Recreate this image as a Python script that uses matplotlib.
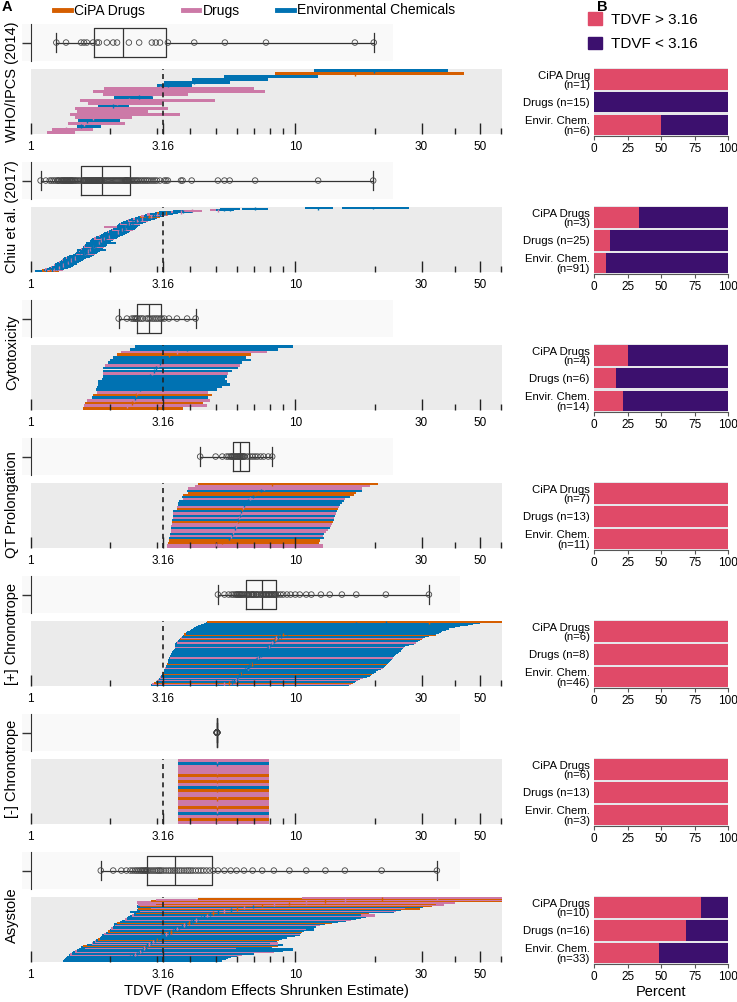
import numpy as np
import matplotlib.pyplot as plt
from matplotlib.lines import Line2D
from matplotlib.patches import Patch, Rectangle
from matplotlib.ticker import NullFormatter

plt.rcParams['font.family'] = ['Liberation Sans', 'DejaVu Sans']

# ---------------- data (rows listed bottom -> top) ----------------
# category codes: C = CiPA drug, D = drug, E = environmental chemical

who_cat = "DDEDEDDDDE" "DDEDDDEEEE" "CE"
who_low = [1.15, 1.20, 1.49, 1.38, 1.51, 1.47, 1.41, 1.50, 1.47, 1.80, 1.65,
           1.54, 2.06, 1.88, 1.72, 1.90, 3.00, 3.20, 4.06, 5.40, 8.40, 11.8]
who_mid = [1.25, 1.36, 1.55, 1.59, 1.63, 1.72, 1.78, 1.81, 1.94, 2.05, 2.12,
           2.35, 2.57, 2.87, 2.97, 3.08, 3.30, 4.15, 5.42, 7.75, 16.8, 19.8]
who_high = [1.47, 1.72, 1.85, 2.27, 2.17, 2.41, 3.67, 2.77, 3.30, 2.35, 3.13,
            4.97, 2.90, 3.93, 7.70, 7.00, 4.06, 5.66, 7.90, 12.2, 43.5, 37.8]

chiu_cat = ("EECEDEEEDE" "EEDEEEEDEE" "EDEEEDEEEE" "EEEDEEEEDE" "EDEEEEDEEE"
            "EEEEDEEEDE" "EDEEEDEEEE" "EEEDEEEDEE" "EEDEEEEEDE" "EEEEDEEDEE"
            "ECDEEDE" "ECEDEDDEEEEE")
chiu_low = [1.04, 1.07, 1.10, 1.12, 1.13, 1.15, 1.17, 1.18, 1.19, 1.20,
            1.22, 1.22, 1.23, 1.24, 1.25, 1.26, 1.27, 1.28, 1.29, 1.30,
            1.30, 1.31, 1.32, 1.33, 1.34, 1.36, 1.37, 1.38, 1.40, 1.42,
            1.45, 1.46, 1.47, 1.48, 1.48, 1.49, 1.50, 1.51, 1.52, 1.53,
            1.50, 1.55, 1.56, 1.57, 1.57, 1.58, 1.59, 1.60, 1.61, 1.62,
            1.63, 1.64, 1.62, 1.66, 1.67, 1.67, 1.68, 1.69, 1.70, 1.71,
            1.72, 1.74, 1.76, 1.77, 1.79, 1.81, 1.83, 1.85, 1.87, 1.88,
            1.90, 1.92, 1.94, 1.96, 1.98, 2.00, 2.01, 2.03, 2.05, 2.07,
            2.09, 2.10, 1.90, 2.12, 2.13, 2.13, 2.14, 2.16, 2.17, 2.19,
            2.22, 2.24, 2.27, 2.30, 2.33, 2.36, 2.39, 2.43, 2.47, 2.50,
            2.54, 2.58, 2.62, 2.67, 2.71, 2.76, 2.83, 2.95, 3.00, 3.05,
            3.40, 3.45, 3.75, 4.75, 5.00, 5.20, 6.30, 10.9, 15.0]
chiu_mid = [1.09, 1.14, 1.18, 1.20, 1.22, 1.24, 1.26, 1.27, 1.28, 1.30,
            1.31, 1.32, 1.33, 1.34, 1.35, 1.36, 1.37, 1.38, 1.39, 1.40,
            1.41, 1.42, 1.43, 1.44, 1.45, 1.47, 1.48, 1.50, 1.52, 1.54,
            1.57, 1.58, 1.59, 1.60, 1.61, 1.62, 1.63, 1.64, 1.65, 1.66,
            1.67, 1.68, 1.69, 1.70, 1.71, 1.72, 1.73, 1.74, 1.75, 1.76,
            1.77, 1.78, 1.79, 1.80, 1.81, 1.82, 1.83, 1.84, 1.85, 1.86,
            1.87, 1.89, 1.91, 1.93, 1.95, 1.97, 1.99, 2.01, 2.03, 2.05,
            2.07, 2.09, 2.11, 2.13, 2.15, 2.17, 2.19, 2.21, 2.23, 2.25,
            2.27, 2.28, 2.29, 2.30, 2.31, 2.32, 2.33, 2.35, 2.36, 2.38,
            2.41, 2.44, 2.47, 2.50, 2.53, 2.56, 2.60, 2.64, 2.68, 2.72,
            2.76, 2.80, 2.85, 2.90, 2.95, 3.00, 3.08, 3.20, 3.25, 3.30,
            3.70, 3.75, 4.06, 5.10, 5.40, 5.65, 7.05, 12.2, 19.7]
chiu_high = [1.14, 1.24, 1.28, 1.30, 1.33, 1.34, 1.37, 1.38, 1.39, 1.42,
             1.42, 1.44, 1.45, 1.46, 1.47, 1.49, 1.49, 1.51, 1.52, 1.53,
             1.55, 1.56, 1.57, 1.58, 1.59, 1.61, 1.62, 1.65, 1.67, 1.70,
             1.72, 1.73, 1.74, 1.75, 1.76, 1.78, 1.79, 1.80, 1.81, 1.82,
             1.92, 1.84, 1.85, 1.86, 1.88, 1.89, 1.90, 1.91, 1.92, 1.93,
             1.94, 1.95, 2.10, 1.97, 1.99, 2.00, 2.01, 2.02, 2.03, 2.04,
             2.05, 2.07, 2.10, 2.12, 2.14, 2.16, 2.18, 2.20, 2.23, 2.25,
             2.27, 2.30, 2.32, 2.34, 2.36, 2.38, 2.40, 2.43, 2.45, 2.47,
             2.49, 2.50, 2.48, 2.53, 2.54, 2.55, 2.56, 2.58, 2.59, 2.61,
             2.65, 2.68, 2.72, 2.75, 2.78, 2.82, 2.86, 2.90, 2.95, 2.99,
             3.04, 3.08, 3.14, 3.19, 3.25, 3.30, 3.39, 3.45, 3.50, 3.60,
             4.05, 4.10, 4.45, 5.45, 5.85, 6.20, 7.90, 13.9, 27.0]

cyto_cat = "CDCDECDEEE" "EEEDEEDEEE" "CDEE"
cyto_low = [1.57, 1.59, 1.60, 1.63, 1.71, 1.72, 1.78, 1.76, 1.78, 1.79, 1.80, 1.86,
            1.88, 1.88, 1.88, 1.88, 1.91, 1.96, 2.00, 2.05, 2.12, 2.20, 2.37, 2.48]
cyto_mid = [2.15, 2.31, 2.41, 2.45, 2.48, 2.51, 2.53, 2.58, 2.62, 2.66, 2.74, 2.78,
            2.82, 2.88, 2.93, 2.98, 3.03, 3.09, 3.13, 3.20, 3.33, 3.57, 3.90, 4.20]
cyto_high = [3.76, 4.63, 4.48, 4.75, 4.68, 4.83, 4.68, 5.05, 5.30, 5.65, 5.50, 5.43,
             5.50, 5.56, 5.76, 6.06, 6.20, 6.30, 6.80, 6.50, 6.80, 7.80, 8.60, 9.80]

qt_cat = "DDCCEDEDDE" "DDCEDEDECD" "EEEDECCEDD" "C"
qt_low = [3.27, 3.27, 3.31, 3.33, 3.33, 3.35, 3.35, 3.38, 3.38, 3.39,
          3.40, 3.43, 3.43, 3.43, 3.44, 3.46, 3.46, 3.46, 3.57, 3.57,
          3.60, 3.60, 3.63, 3.77, 3.73, 3.77, 3.93, 3.90, 3.93, 4.17, 4.30]
qt_mid = [4.37, 5.00, 5.30, 5.50, 5.60, 5.70, 5.75, 5.80, 5.85, 5.90,
          5.95, 6.00, 6.05, 6.10, 6.15, 6.18, 6.22, 6.26, 6.30, 6.35,
          6.40, 6.45, 6.60, 6.75, 6.90, 7.05, 7.20, 7.40, 7.60, 7.90, 8.18]
qt_high = [12.7, 12.7, 12.3, 12.4, 12.8, 12.7, 12.8, 13.1, 13.3, 13.5,
           13.6, 13.8, 13.9, 13.95, 14.0, 14.1, 14.2, 14.4, 14.5, 14.6,
           14.8, 15.0, 15.3, 15.4, 16.1, 16.7, 16.9, 17.9, 17.9, 19.1, 20.6]

pos_cat = ("EDCEEDEDEE" "ECEEEEDEEE" "CEEEEEDEEE" "EEEEEEDEEE" "DEECDEECEE"
           "EEEEEEEEEC")
pos_low = [2.85, 2.88, 2.92, 2.98, 3.02, 3.04, 3.06, 3.08, 3.11, 3.13,
           3.15, 3.16, 3.18, 3.19, 3.20, 3.21, 3.22, 3.25, 3.26, 3.27,
           3.28, 3.29, 3.30, 3.31, 3.32, 3.33, 3.35, 3.36, 3.38, 3.40,
           3.42, 3.43, 3.45, 3.48, 3.50, 3.55, 3.50, 3.50, 3.52, 3.55,
           3.58, 3.60, 3.65, 3.68, 3.70, 3.72, 3.75, 3.80, 3.85, 3.90,
           4.00, 4.05, 4.10, 4.15, 4.20, 4.30, 4.40, 4.50, 4.60, 4.65]
pos_mid = [5.10, 5.40, 5.60, 5.75, 5.85, 5.95, 6.00, 6.05, 6.10, 6.15,
           6.20, 6.25, 6.30, 6.38, 6.45, 6.55, 6.60, 6.65, 6.70, 6.80,
           6.85, 6.90, 6.95, 7.00, 7.10, 7.15, 7.20, 7.30, 7.40, 7.45,
           7.55, 7.60, 7.70, 7.75, 7.80, 7.90, 7.95, 8.00, 8.10, 8.15,
           8.20, 8.30, 8.35, 8.40, 8.45, 8.60, 8.80, 9.00, 9.30, 9.60,
           10.0, 10.4, 11.0, 11.5, 12.5, 13.5, 15.0, 17.0, 22.0, 32.0]
pos_high = [16.0, 16.2, 16.5, 16.8, 17.0, 17.3, 17.6, 18.0, 18.6, 19.1,
            19.3, 19.5, 19.8, 20.2, 20.6, 21.0, 21.4, 21.6, 21.8, 22.0,
            22.2, 22.4, 22.6, 22.8, 23.0, 23.2, 23.4, 23.6, 23.8, 24.0,
            24.4, 24.7, 25.0, 25.2, 25.3, 25.5, 25.8, 26.0, 27.0, 28.0,
            28.5, 29.0, 29.5, 30.0, 30.4, 31.0, 32.0, 34.0, 34.0, 35.0,
            35.5, 36.0, 37.0, 38.0, 40.0, 42.0, 45.0, 47.0, 50.0, 62.0]

neg_cat = "DCDEDCDDCDDCEDCDCDDDED"
neg_low = [3.59, 3.59, 3.59, 3.59, 3.59, 3.59, 3.59, 3.59, 3.59, 3.59, 3.59,
           3.59, 3.59, 3.59, 3.59, 3.59, 3.59, 3.59, 3.59, 3.59, 3.59, 3.59]
neg_mid = [5.06, 5.06, 5.06, 5.06, 5.06, 5.06, 5.06, 5.06, 5.06, 5.06, 5.06,
           5.06, 5.06, 5.06, 5.06, 5.06, 5.06, 5.06, 5.06, 5.06, 5.06, 5.06]
neg_high = [7.96, 7.96, 7.96, 7.96, 7.96, 7.96, 7.96, 7.96, 7.96, 7.96, 7.96,
            7.96, 7.96, 7.96, 7.96, 7.96, 7.96, 7.96, 7.96, 7.96, 7.96, 7.96]

asys_cat = ("EEEEEEDEEDEEDECEDEDECEEE" "EDECEEDEED" "ECEEDEEEDE" "CEDECDECDC"
            "DCDCD")
asys_low = [1.33, 1.34, 1.35, 1.36, 1.37, 1.39, 1.41, 1.43, 1.45, 1.47,
            1.50, 1.52, 1.60, 1.55, 1.58, 1.63, 1.70, 1.72, 1.75, 1.77,
            1.80, 1.82, 1.85, 1.88, 1.86, 1.90, 1.93, 1.96, 2.00, 2.05,
            2.02, 2.04, 2.06, 2.08, 2.07, 2.12, 2.17, 2.22, 2.27, 2.32,
            2.34, 2.38, 2.42, 2.46, 2.50, 2.37, 2.60, 2.52, 2.55, 2.85,
            2.52, 2.60, 2.55, 2.97, 2.52, 2.85, 2.98, 4.30, 10.6]
asys_mid = [1.84, 2.05, 2.20, 2.30, 2.38, 2.43, 2.48, 2.52, 2.56, 2.60,
            2.63, 2.66, 2.69, 2.72, 2.74, 2.76, 2.80, 2.85, 2.90, 2.95,
            3.00, 3.04, 3.08, 3.12, 3.18, 3.25, 3.32, 3.38, 3.45, 3.51,
            3.58, 3.65, 3.72, 3.80, 3.88, 3.95, 4.02, 4.10, 4.20, 4.30,
            4.40, 4.50, 4.62, 4.75, 4.90, 5.10, 5.40, 5.70, 6.00, 6.40,
            6.90, 7.50, 8.30, 9.50, 11.0, 13.0, 15.4, 21.2, 34.3]
asys_high = [5.30, 5.30, 5.45, 5.55, 5.70, 6.00, 6.30, 7.00, 6.60, 8.30,
             9.00, 9.80, 5.96, 8.20, 8.60, 8.97, 8.60, 8.00, 8.30, 8.50,
             8.70, 8.90, 9.30, 10.0, 10.4, 10.4, 10.5, 10.6, 10.8, 11.8,
             11.0, 11.5, 12.0, 12.4, 13.0, 13.8, 14.5, 15.5, 16.3, 17.0,
             17.7, 18.5, 20.0, 17.7, 19.0, 23.6, 24.0, 25.0, 29.6, 26.0,
             30.5, 33.0, 36.5, 34.0, 40.0, 61.0, 61.0, 61.0, 61.0]

endpoints = ['WHO/IPCS (2014)', 'Chiu et al. (2017)', 'Cytotoxicity',
             'QT Prolongation', '[+] Chronotrope', '[-] Chronotrope', 'Asystole']

# panel B: percent of chemicals with TDVF > 3.16 (CiPA, Drugs, Envir.)
pct_above = [[100, 0, 50], [33.3, 12, 8.8], [25, 16.7, 21.4], [100, 100, 100],
             [100, 100, 100], [100, 100, 100], [80, 68.75, 48.5]]
b_labels = [
    ['CiPA Drug\n(n=1)', 'Drugs (n=15)', 'Envir. Chem.\n(n=6)'],
    ['CiPA Drugs\n(n=3)', 'Drugs (n=25)', 'Envir. Chem.\n(n=91)'],
    ['CiPA Drugs\n(n=4)', 'Drugs (n=6)', 'Envir. Chem.\n(n=14)'],
    ['CiPA Drugs\n(n=7)', 'Drugs (n=13)', 'Envir. Chem.\n(n=11)'],
    ['CiPA Drugs\n(n=6)', 'Drugs (n=8)', 'Envir. Chem.\n(n=46)'],
    ['CiPA Drugs\n(n=6)', 'Drugs (n=13)', 'Envir. Chem.\n(n=3)'],
    ['CiPA Drugs\n(n=10)', 'Drugs (n=16)', 'Envir. Chem.\n(n=33)'],
]

series = [
    (who_cat, who_low, who_mid, who_high),
    (chiu_cat, chiu_low, chiu_mid, chiu_high),
    (cyto_cat, cyto_low, cyto_mid, cyto_high),
    (qt_cat, qt_low, qt_mid, qt_high),
    (pos_cat, pos_low, pos_mid, pos_high),
    (neg_cat, neg_low, neg_mid, neg_high),
    (asys_cat, asys_low, asys_mid, asys_high),
]

# ---------------- style ----------------
cat_colors = {'C': '#d55e00', 'D': '#cc79a7', 'E': '#0072b2'}
above_color = '#e04a68'
below_color = '#3c106e'
bar_px = [3.0, 2.3, 2.6, 2.1, 2.5, 2.9, 2.6]          # bar thickness in pixels
box_bg_right = [393, 393, 393, 393, 460, 460, 460]    # faint strip behind box plot
label_shift = [3, 0, -3, 12, 3, 0, 8]                 # nudge of row titles (px)

W, H = 737, 1002
A_LEFT, A_RIGHT = 30.7, 502.3
X_LIM = (1, 60.6)


def rect(l, t, r, b):
    return [l / W, 1 - b / H, (r - l) / W, (b - t) / H]


fig = plt.figure(figsize=(W / 100, H / 100), dpi=100)

for k, (cat, low, mid, high) in enumerate(series):
    bar_top = 69.3 + 138 * k
    bar_bot = bar_top + 64.5
    box_top = bar_top - 45
    box_bot = bar_top - 8.5
    colors = [cat_colors[c] for c in cat]
    n = len(mid)

    # --- box plot strip ---
    axb = fig.add_axes(rect(A_LEFT, box_top, A_RIGHT, box_bot))
    axb.set_xscale('log')
    axb.set_xlim(*X_LIM)
    axb.set_ylim(-0.5, 0.5)
    axb.patch.set_visible(False)
    span = A_RIGHT - A_LEFT
    axb.add_patch(Rectangle(((22 - A_LEFT) / span, 0), (box_bg_right[k] - 22) / span, 1,
                            transform=axb.transAxes, facecolor='#f9f9f9',
                            edgecolor='none', zorder=0, clip_on=False))
    line_kw = dict(color='#333333', linewidth=0.9)
    axb.boxplot(mid, orientation='horizontal', positions=[0], widths=0.8,
                whis=(0, 100), showfliers=False, capwidths=0.5,
                boxprops=line_kw, whiskerprops=line_kw, capprops=line_kw,
                medianprops=line_kw)
    axb.scatter(mid, np.zeros(n), s=16, facecolors='none', edgecolors='#444444',
                linewidths=0.6, zorder=3)
    axb.set_xticks([])
    axb.set_xticks([], minor=True)
    axb.set_yticks([0])
    axb.set_yticklabels([])
    axb.tick_params(axis='y', length=6.5, width=1, color='#333333')
    for side in ['top', 'right', 'bottom']:
        axb.spines[side].set_visible(False)
    axb.spines['left'].set_color('#333333')

    # --- interval bars ---
    ax = fig.add_axes(rect(A_LEFT, bar_top, A_RIGHT, bar_bot))
    ax.set_facecolor('#ebebeb')
    y = np.arange(n)
    h = bar_px[k] * n / 64.5
    ax.barh(y, np.array(high) - np.array(low), left=low, height=h,
            color=colors, linewidth=0)
    tick_pt = (bar_px[k] + 1.0) * 0.72
    ax.scatter(mid, y, marker='|', s=tick_pt ** 2, c=colors, linewidths=1.0, zorder=2)
    ax.axvline(3.16, color='#222222', linestyle=(0, (3, 2.5)), linewidth=1.2, zorder=5)
    ax.set_xscale('log')
    ax.set_xlim(*X_LIM)
    ax.set_ylim(-0.5, n - 0.5)
    ax.set_xticks([1, 3.16, 10, 30, 50])
    ax.set_xticklabels(['1', '3.16', '10', '30', '50'])
    ax.set_xticks([2, 3, 4, 5, 6, 7, 8, 9, 20, 40, 60], minor=True)
    ax.xaxis.set_minor_formatter(NullFormatter())
    ax.tick_params(axis='x', which='major', direction='in', length=8, width=1,
                   color='#222222', labelsize=8.5, pad=5)
    ax.tick_params(axis='x', which='minor', direction='in', length=4, width=1,
                   color='#222222')
    ax.tick_params(axis='y', left=False, labelleft=False)
    for s in ax.spines.values():
        s.set_visible(False)

    fig.text(12 / W, 1 - ((box_top + bar_bot) / 2 + label_shift[k]) / H, endpoints[k],
             rotation=90, ha='center', va='center', fontsize=10.5)

    # --- panel B ---
    axp = fig.add_axes(rect(594, bar_top - 1, 728, bar_top + 67))
    yb = [2, 1, 0]
    pct = np.array(pct_above[k], dtype=float)
    axp.barh(yb, pct, height=0.9, color=above_color, linewidth=0)
    axp.barh(yb, 100 - pct, left=pct, height=0.9, color=below_color, linewidth=0)
    axp.set_xlim(0, 100)
    axp.set_ylim(-0.5, 2.5)
    axp.set_facecolor('#e6e6ea')
    axp.set_yticks(yb)
    axp.set_yticklabels(b_labels[k], fontsize=8.2, linespacing=0.95)
    axp.set_xticks([0, 25, 50, 75, 100])
    axp.tick_params(axis='y', length=0, pad=3)
    axp.tick_params(axis='x', length=3, color='#555555', labelsize=8.5, pad=2)
    for side in ['top', 'right', 'left']:
        axp.spines[side].set_visible(False)
    axp.spines['bottom'].set_color('#555555')
    axp.spines['bottom'].set_linewidth(0.8)

    if k == len(series) - 1:
        ax.set_xlabel('TDVF (Random Effects Shrunken Estimate)', fontsize=10.5, labelpad=2)
        axp.set_xlabel('Percent', fontsize=10.5, labelpad=1)

# legends and panel letters
fig.legend(handles=[Line2D([], [], color=cat_colors[c], linewidth=3.5) for c in 'CDE'],
           labels=['CiPA Drugs', 'Drugs', 'Environmental Chemicals'],
           loc='center left', bbox_to_anchor=(54 / W, 1 - 10.5 / H), ncol=3,
           frameon=False, fontsize=10, handlelength=1.2, handletextpad=0.25,
           columnspacing=2.7, borderpad=0, borderaxespad=0)
fig.legend(handles=[Patch(color=above_color), Patch(color=below_color)],
           labels=['TDVF > 3.16', 'TDVF < 3.16'], loc='upper left',
           bbox_to_anchor=(588 / W, 1 - 12 / H), frameon=False, fontsize=11,
           handlelength=0.9, handleheight=0.9, labelspacing=0.65,
           handletextpad=0.6, borderpad=0, borderaxespad=0)
fig.text(2 / W, 1 - 7 / H, 'A', fontsize=10.5, fontweight='bold', va='center')
fig.text(597 / W, 1 - 7 / H, 'B', fontsize=10.5, fontweight='bold', va='center')

fig.savefig('out.png', dpi=100)
